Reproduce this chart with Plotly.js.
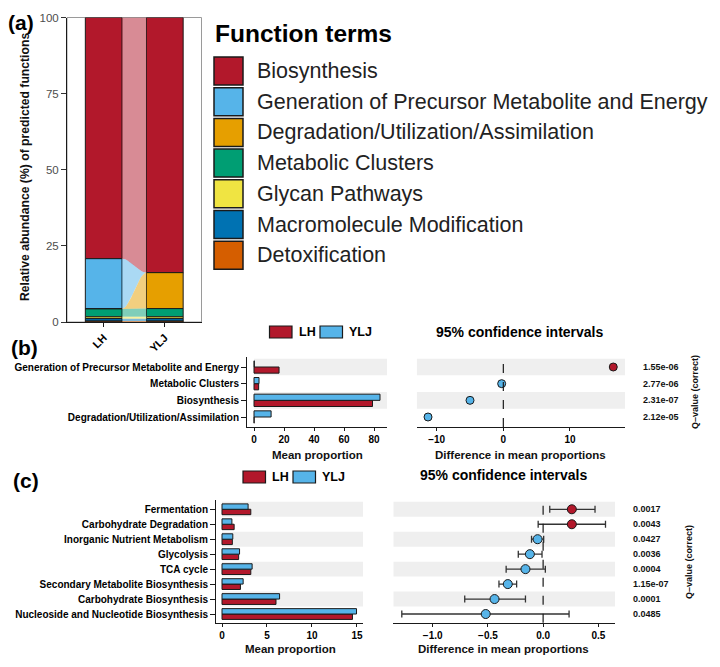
<!DOCTYPE html>
<html><head><meta charset="utf-8">
<script src="https://cdn.plot.ly/plotly-3.0.1.min.js"></script>
<style>html,body{margin:0;padding:0;background:#fff}#chart{width:720px;height:667px}</style>
</head><body><div id="chart"></div>
<script>
// ---------- Panel (a) data ----------
const samples = ['LH', 'YLJ'];
const functionTerms = ['Biosynthesis', 'Generation of Precursor Metabolite and Energy', 'Degradation/Utilization/Assimilation', 'Metabolic Clusters', 'Glycan Pathways', 'Macromolecule Modification', 'Detoxification'];
const termColors = ['#b2182b', '#56b4e9', '#e69f00', '#009e73', '#f0e442', '#0072b2', '#d55e00'];
const termColorsLight = ['rgba(178,24,43,0.5)', 'rgba(86,180,233,0.5)', 'rgba(230,159,0,0.5)', 'rgba(0,158,115,0.5)', 'rgba(240,228,66,0.5)', 'rgba(0,114,178,0.5)', 'rgba(213,94,0,0.5)'];
const abundLH  = [79.2, 16.5, 0.0, 2.6, 0.6, 0.8, 0.3];
const abundYLJ = [83.8, 0.0, 11.8, 2.7, 0.6, 0.8, 0.3];

// ---------- Panel (b) data ----------
const bTerms = ['Generation of Precursor Metabolite and Energy', 'Metabolic Clusters', 'Biosynthesis', 'Degradation/Utilization/Assimilation'];
const bMeanLH  = [16.7, 3.1, 79.0, 0.1];
const bMeanYLJ = [0.2, 3.35, 84.0, 11.4];
const bDiff = [16.5, -0.25, -5.0, -11.3];
const bQ = ['1.55e-06', '2.77e-06', '2.31e-07', '2.12e-05'];
const bXTicks = [0, 20, 40, 60, 80];
const bCITicks = [-10, 0, 10];

// ---------- Panel (c) data ----------
const cTerms = ['Fermentation', 'Carbohydrate Degradation', 'Inorganic Nutrient Metabolism', 'Glycolysis', 'TCA cycle', 'Secondary Metabolite Biosynthesis', 'Carbohydrate Biosynthesis', 'Nucleoside and Nucleotide Biosynthesis'];
const cMeanLH  = [3.2, 1.35, 1.15, 1.85, 3.2, 2.05, 6.0, 14.5];
const cMeanYLJ = [2.9, 1.1, 1.2, 1.95, 3.35, 2.35, 6.4, 14.95];
const cDiff   = [0.26, 0.26, -0.05, -0.12, -0.16, -0.32, -0.44, -0.52];
const cCILow  = [0.06, -0.045, -0.105, -0.225, -0.335, -0.40, -0.71, -1.28];
const cCIHigh = [0.47, 0.565, 0.005, -0.01, 0.02, -0.24, -0.16, 0.235];
const cQ = ['0.0017', '0.0043', '0.0427', '0.0036', '0.0004', '1.15e-07', '0.0001', '0.0485'];
const cXTicks = [0, 5, 10, 15];
const cCITicks = [-1.0, -0.5, 0.0, 0.5];

const groupNames = ['LH', 'YLJ'];
const groupColors = ['#b2182b', '#56b4e9'];

// ---------- helpers ----------
const FONT = 'Liberation Sans, Arial, Helvetica, sans-serif';
const W = 720, H = 667;
const PX = x => x / W;
const PY = y => 1 - y / H;
const traces = [];
const shapes = [];
const annotations = [];

// ---------- Panel (a): stacked bars + alluvial ribbons ----------
const nT = functionTerms.length;
function bases(vals) {
  const b = [];
  for (let k = 0; k < nT; k++) {
    let s = 0;
    for (let j = k + 1; j < nT; j++) s += vals[j];
    b.push(s);
  }
  return b;
}
const baseLH = bases(abundLH), baseYLJ = bases(abundYLJ);
const barW = 0.6;
const xL = 0 + barW / 2, xR = 1 - barW / 2;
const steps = 16;
for (let k = 0; k < nT; k++) {
  const xs = [], ys = [];
  const t0 = baseLH[k] + abundLH[k], t1 = baseYLJ[k] + abundYLJ[k];
  const b0 = baseLH[k], b1 = baseYLJ[k];
  for (let s = 0; s <= steps; s++) {
    const t = s / steps, e = t * t * (3 - 2 * t);
    xs.push(xL + (xR - xL) * t); ys.push(t0 + (t1 - t0) * e);
  }
  for (let s = steps; s >= 0; s--) {
    const t = s / steps, e = t * t * (3 - 2 * t);
    xs.push(xL + (xR - xL) * t); ys.push(b0 + (b1 - b0) * e);
  }
  traces.push({type: 'scatter', mode: 'lines', x: xs, y: ys, fill: 'toself',
    fillcolor: termColorsLight[k], line: {width: 0}, hoverinfo: 'skip',
    xaxis: 'x', yaxis: 'y'});
}
for (let k = 0; k < nT; k++) {
  traces.push({type: 'bar', x: [0, 1], y: [abundLH[k], abundYLJ[k]],
    base: [baseLH[k], baseYLJ[k]], width: barW, name: functionTerms[k],
    marker: {color: termColors[k], line: {color: '#1a1a1a', width: 1}},
    xaxis: 'x', yaxis: 'y'});
}

// ---------- Panel (b) ----------
const bIdx = bTerms.map((_, i) => bTerms.length - 1 - i);
const bW = 0.37;
[bMeanLH, bMeanYLJ].forEach((vals, g) => {
  traces.push({type: 'bar', orientation: 'h', y: bIdx, x: vals, width: bW,
    offset: g === 0 ? -bW : 0, name: groupNames[g],
    marker: {color: groupColors[g], line: {color: '#1a1a1a', width: 1}},
    xaxis: 'x2', yaxis: 'y2'});
});
traces.push({type: 'scatter', mode: 'markers', x: bDiff, y: bIdx,
  marker: {size: 8, color: bDiff.map(d => d > 0 ? groupColors[0] : groupColors[1]), line: {color: '#1a1a1a', width: 1}},
  xaxis: 'x3', yaxis: 'y3'});

// ---------- Panel (c) ----------
const cIdx = cTerms.map((_, i) => cTerms.length - 1 - i);
const cW = 0.36;
[cMeanLH, cMeanYLJ].forEach((vals, g) => {
  traces.push({type: 'bar', orientation: 'h', y: cIdx, x: vals, width: cW,
    offset: g === 0 ? -cW : 0, name: groupNames[g],
    marker: {color: groupColors[g], line: {color: '#1a1a1a', width: 1}},
    xaxis: 'x4', yaxis: 'y4'});
});
traces.push({type: 'scatter', mode: 'markers', x: cDiff, y: cIdx,
  error_x: {type: 'data', symmetric: false,
    array: cCIHigh.map((h, i) => h - cDiff[i]),
    arrayminus: cCILow.map((l, i) => cDiff[i] - l),
    color: '#333', thickness: 1.3, width: 3.5},
  marker: {size: 9, color: cDiff.map(d => d > 0 ? groupColors[0] : groupColors[1]), line: {color: '#1a1a1a', width: 1}},
  xaxis: 'x5', yaxis: 'y5'});

// ---------- ranges ----------
const rA = {x: [-0.6, 1.6], y: [0, 100]};
const rB = {x: [-4.67, 88.67], ci: [-13.0, 18.26], y: [-0.6, 3.6]};
const rC = {x: [-0.667, 15.67], ci: [-1.357, 0.651], y: [-0.58, 7.62]};

// row shading
function shade(n, xr, yr, x0, x1) {
  for (let r = 0; r < n; r += 2) {
    const idx = n - 1 - r;
    shapes.push({type: 'rect', xref: xr, yref: yr, x0: x0, x1: x1, y0: idx - 0.5, y1: idx + 0.5,
      fillcolor: '#efefef', line: {width: 0}, layer: 'below'});
  }
}
shade(bTerms.length, 'x2', 'y2', 0, rB.x[1]);
shade(bTerms.length, 'x3', 'y3', rB.ci[0], rB.ci[1]);
shade(cTerms.length, 'x4', 'y4', 0, rC.x[1]);
shade(cTerms.length, 'x5', 'y5', rC.ci[0], rC.ci[1]);

// zero dashed lines
[['x3', 'y3'], ['x5', 'y5']].forEach(([xr, yr]) => {
  shapes.push({type: 'line', xref: xr, yref: yr + ' domain', x0: 0, x1: 0, y0: 0, y1: 1,
    line: {color: '#1a1a1a', width: 1.2, dash: 'dash'}, layer: 'above'});
});

// panel (a) frame
shapes.push({type: 'rect', xref: 'x domain', yref: 'y domain', x0: 0, x1: 1, y0: 0, y1: 1,
  line: {color: '#9a9a9a', width: 1}, layer: 'below'});

// ---------- legends & texts ----------
const boldF = (size, color) => ({family: FONT, size: size, color: color || '#000', weight: 'bold'});
function ann(text, x, y, font, extra) {
  annotations.push(Object.assign({text: text, x: x, y: y, xref: 'paper', yref: 'paper',
    xanchor: 'left', yanchor: 'middle', showarrow: false, font: font}, extra || {}));
}
ann('(a)', PX(6), PY(23), boldF(21));
ann('(b)', PX(9), PY(347), boldF(21));
ann('(c)', PX(11), PY(480), boldF(21));

ann('Function terms', PX(213), PY(33), boldF(24.5));
for (let i = 0; i < nT; i++) {
  const cy = 71 + 30.7 * i;
  shapes.push({type: 'rect', xref: 'paper', yref: 'paper', x0: PX(214), x1: PX(243),
    y0: PY(cy - 14), y1: PY(cy + 14), fillcolor: termColors[i], line: {color: '#1a1a1a', width: 1.5}});
  ann(functionTerms[i], PX(255), PY(cy), {family: FONT, size: 21.5, color: '#222'});
}
ann('Relative abundance (%) of predicted functions', PX(25), PY(167), boldF(12.2, '#111'),
  {xanchor: 'center', textangle: -90});

// group legends
function groupLegend(xs, cy) {
  groupNames.forEach((g, i) => {
    shapes.push({type: 'rect', xref: 'paper', yref: 'paper', x0: PX(xs[i]), x1: PX(xs[i] + 22.5),
      y0: PY(cy - 6), y1: PY(cy + 6), fillcolor: groupColors[i], line: {color: '#1a1a1a', width: 1.2}});
    ann(g, PX(xs[i] + 27), PY(cy), boldF(12.5));
  });
}
groupLegend([269.5, 320], 332);
groupLegend([243, 293], 477);

ann('95% confidence intervals', PX(519.5), PY(332), boldF(14), {xanchor: 'center'});
ann('95% confidence intervals', PX(504), PY(475), boldF(14), {xanchor: 'center'});

bQ.forEach((q, i) => annotations.push({text: q, x: PX(641), xref: 'paper', y: bIdx[i], yref: 'y3',
  xanchor: 'left', yanchor: 'middle', showarrow: false, font: boldF(9, '#111')}));
cQ.forEach((q, i) => annotations.push({text: q, x: PX(631), xref: 'paper', y: cIdx[i], yref: 'y5',
  xanchor: 'left', yanchor: 'middle', showarrow: false, font: boldF(9, '#111')}));
ann('Q–value (correct)', PX(695), PY(392), boldF(9, '#111'), {xanchor: 'center', textangle: -90});
ann('Q–value (correct)', PX(689), PY(562), boldF(9, '#111'), {xanchor: 'center', textangle: -90});

const titleF = boldF(11.5, '#111');
ann('Mean proportion', PX(317), PY(455), titleF, {xanchor: 'center', borderpad: 0});
ann('Difference in mean proportions', PX(520), PY(455), titleF, {xanchor: 'center', borderpad: 0});
ann('Mean proportion', PX(290), PY(649), titleF, {xanchor: 'center', borderpad: 0});
ann('Difference in mean proportions', PX(504), PY(649), titleF, {xanchor: 'center', borderpad: 0});

// ---------- axes ----------
const baseAx = {showgrid: false, zeroline: false, fixedrange: true, showline: true,
  linecolor: '#1a1a1a', linewidth: 1, ticks: 'outside', ticklen: 3, tickcolor: '#1a1a1a', tickwidth: 1};
const ax = o => Object.assign({}, baseAx, o);
const hidden = o => Object.assign({showgrid: false, zeroline: false, fixedrange: true, showline: false,
  showticklabels: false, ticks: ''}, o);

const layout = {
  width: W, height: H, margin: {l: 0, r: 0, t: 0, b: 0},
  paper_bgcolor: '#fff', plot_bgcolor: 'rgba(0,0,0,0)',
  showlegend: false, barmode: 'overlay', hovermode: false,
  font: {family: FONT},
  xaxis: ax({domain: [PX(67), PX(201.5)], anchor: 'y', range: rA.x, tickvals: [0, 1], ticktext: samples,
    tickangle: -45, ticklen: 4, tickfont: boldF(11)}),
  yaxis: ax({domain: [PY(322), PY(17.5)], anchor: 'x', range: rA.y, tickvals: [0, 25, 50, 75, 100],
    tickfont: {family: FONT, size: 11.5, color: '#4d4d4d'}, ticklen: 5, tickcolor: '#333'}),
  xaxis2: ax({domain: [PX(247), PX(387)], anchor: 'y2', range: rB.x, tickvals: bXTicks, tickfont: boldF(10)}),
  yaxis2: ax({domain: [PY(427), PY(357)], anchor: 'x2', range: rB.y, tickvals: bIdx, ticktext: bTerms,
    ticklen: 5, tickfont: boldF(10)}),
  xaxis3: ax({domain: [PX(416.7), PX(625)], anchor: 'y3', range: rB.ci, tickvals: bCITicks, tickfont: boldF(10)}),
  yaxis3: hidden({domain: [PY(427), PY(357)], anchor: 'x3', range: rB.y}),
  xaxis4: ax({domain: [PX(216), PX(363)], anchor: 'y4', range: rC.x, tickvals: cXTicks, tickfont: boldF(10)}),
  yaxis4: ax({domain: [PY(622.7), PY(500)], anchor: 'x4', range: rC.y, tickvals: cIdx, ticktext: cTerms,
    ticklen: 5, tickfont: boldF(10)}),
  xaxis5: ax({domain: [PX(393.3), PX(615)], anchor: 'y5', range: rC.ci, tickvals: cCITicks,
    tickformat: '.1f', tickfont: boldF(10)}),
  yaxis5: hidden({domain: [PY(622.7), PY(500)], anchor: 'x5', range: rC.y}),
  shapes: shapes, annotations: annotations
};

Plotly.newPlot('chart', traces, layout, {staticPlot: true, displayModeBar: false});
</script>
</body></html>
